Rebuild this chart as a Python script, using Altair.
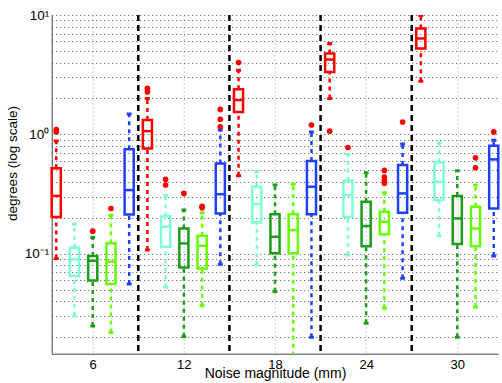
import altair as alt
import pandas as pd

# Noise magnitudes (mm) and the five methods compared at each one
groups = [6, 12, 18, 24, 30]
methods = ["M1", "M2", "M3", "M4", "M5"]
colors = ["#ff0000", "#7fffd4", "#1c9c1c", "#66ff00", "#2040ff"]
offsets = [-2.4, -1.2, 0.0, 1.2, 2.4]

# Box statistics, one row per method, one column per noise magnitude (degrees)
whisker_low = [
    [0.0917, 0.1076, 0.45, 2.0, 2.79],
    [0.0302, 0.0525, 0.0806, 0.0977, 0.1417],
    [0.0249, 0.0202, 0.0482, 0.0262, 0.020],
    [0.022, 0.0368, 0.012, 0.035, 0.036],
    [0.0559, 0.0817, 0.020, 0.0624, 0.096],
]
quartile1 = [
    [0.204, 0.764, 1.545, 3.34, 5.24],
    [0.0652, 0.1146, 0.1835, 0.204, 0.282],
    [0.060, 0.077, 0.101, 0.116, 0.121],
    [0.0559, 0.0756, 0.101, 0.146, 0.116],
    [0.214, 0.218, 0.215, 0.221, 0.240],
]
medians = [
    [0.306, 1.066, 1.94, 4.24, 6.36],
    [0.090, 0.169, 0.261, 0.31, 0.401],
    [0.0875, 0.1224, 0.139, 0.171, 0.198],
    [0.086, 0.117, 0.158, 0.186, 0.163],
    [0.342, 0.316, 0.365, 0.321, 0.618],
]
quartile3 = [
    [0.52, 1.32, 2.39, 4.76, 7.71],
    [0.1125, 0.207, 0.365, 0.409, 0.583],
    [0.096, 0.163, 0.215, 0.273, 0.305],
    [0.1225, 0.142, 0.215, 0.225, 0.248],
    [0.753, 0.572, 0.598, 0.554, 0.803],
]
whisker_high = [
    [0.88, 2.0, 3.45, 5.77, 9.9],
    [0.177, 0.31, 0.486, 0.68, 0.85],
    [0.137, 0.233, 0.377, 0.477, 0.496],
    [0.211, 0.221, 0.382, 0.325, 0.377],
    [1.48, 1.09, 1.05, 0.83, 0.896],
]

# Outliers: (method index, noise magnitude, value)
outlier_method = [0, 0, 0, 0, 0, 0, 1, 1, 1, 2, 2, 3, 3, 3, 3, 3, 3, 3, 3, 3, 4, 4, 4, 4, 4, 4]
outlier_group = [6, 6, 12, 12, 18, 24, 12, 12, 24, 6, 12, 6, 12, 12, 24, 24, 24, 24, 30, 30, 12, 12, 12, 18, 24, 30]
outlier_value = [1.1, 1.05, 2.43, 2.27, 4.0, 1.066, 0.42, 0.377, 0.778, 0.155, 0.321, 0.240, 0.25, 0.243,
                 0.50, 0.44, 0.41, 0.39, 0.637, 0.526, 1.62, 1.34, 1.16, 1.20, 1.27, 1.05]

separators = [9, 15, 21, 27]
x_ticks = [6, 12, 18, 24, 30]
decades = [0.01, 0.1, 1.0]

half_box = 0.3
half_cap = 0.16

boxes, whiskers, caps = [], [], []
for m, name in enumerate(methods):
    for g, grp in enumerate(groups):
        pos = grp + offsets[m]
        boxes.append(dict(method=name, pos=pos, left=pos - half_box, right=pos + half_box,
                          q1=quartile1[m][g], med=medians[m][g], q3=quartile3[m][g]))
        whiskers.append(dict(method=name, pos=pos, lo=whisker_low[m][g], hi=quartile1[m][g]))
        whiskers.append(dict(method=name, pos=pos, lo=quartile3[m][g], hi=whisker_high[m][g]))
        for v in (whisker_low[m][g], whisker_high[m][g]):
            caps.append(dict(method=name, left=pos - half_cap, right=pos + half_cap, v=v))

box_df = pd.DataFrame(boxes)
whisker_df = pd.DataFrame(whiskers)
cap_df = pd.DataFrame(caps)
out_df = pd.DataFrame(dict(
    pos=[g + offsets[m] for m, g in zip(outlier_method, outlier_group)],
    v=outlier_value,
))
sep_df = pd.DataFrame(dict(x=separators))

grid_values = [round(k * d, 4) for d in decades for k in range(1, 10) if k * d >= 0.0146] + [10.0]

xscale = alt.Scale(domain=[3.3, 32.7], nice=False, zero=False)
yscale = alt.Scale(type="log", domain=[0.0146, 10], nice=False)
cscale = alt.Scale(domain=methods, range=colors)

font = "Liberation Sans"
xaxis = alt.Axis(values=x_ticks, title="Noise magnitude (mm)", grid=True, gridDash=[1, 3],
                 gridColor="#9a9a9a", ticks=False, labelPadding=5, labelFontSize=13,
                 titleFontSize=14, titleFontWeight="normal", titlePadding=-5,
                 domainColor="#444444", labelColor="black", titleColor="black",
                 labelFont=font, titleFont=font)
yaxis = alt.Axis(values=grid_values, title="degrees (log scale)", grid=True, gridDash=[1, 3],
                 gridColor="#555555", ticks=False, labelPadding=3, labelFontSize=13.5,
                 labelExpr="datum.value == 10 ? '10¹' : datum.value == 1 ? '10⁰' : datum.value == 0.1 ? '10⁻¹' : ''",
                 titleFontSize=13.5, titleFontWeight="normal", titleX=-39, titleY=148,
                 titleAngle=270, titleBaseline="middle", titleAlign="center",
                 domainColor="#444444", labelColor="black", titleColor="black",
                 labelFont=font, titleFont=font)

X = lambda f: alt.X(f, type="quantitative", scale=xscale, axis=xaxis)
Y = lambda f: alt.Y(f, type="quantitative", scale=yscale, axis=yaxis)
C = alt.Color("method:N", scale=cscale, legend=None)

sep_layer = alt.Chart(sep_df).mark_rule(color="black", strokeWidth=2.5, strokeDash=[6, 4]).encode(
    x=X("x"), y=alt.value(0), y2=alt.value(338.7)
)

whisker_layer = alt.Chart(whisker_df).mark_rule(strokeWidth=2.5, strokeDash=[4, 4], clip=True).encode(
    x=X("pos"), y=Y("lo"), y2="hi", color=C
)

cap_layer = alt.Chart(cap_df).mark_rule(strokeWidth=3, clip=True).encode(
    x=X("left"), x2="right", y=Y("v"), color=C
)

box_layer = alt.Chart(box_df).mark_rect(filled=False, strokeWidth=2.5).encode(
    x=X("left"), x2="right", y=Y("q1"), y2="q3", color=C
)

median_layer = alt.Chart(box_df).mark_rule(strokeWidth=2.5).encode(
    x=X("left"), x2="right", y=Y("med"), color=C
)

outlier_layer = alt.Chart(out_df).mark_circle(size=32, color="#ff0000", opacity=1).encode(
    x=X("pos"), y=Y("v")
)

chart = alt.layer(
    sep_layer, whisker_layer, cap_layer, box_layer, median_layer, outlier_layer
).properties(
    width=446.6, height=338.7,
    autosize=alt.AutoSizeParams(type="none"),
    padding={"left": 51.7, "top": 15, "right": 3.7, "bottom": 29.3},
    background="white",
).configure_view(stroke=None)

chart.save("out.html", embed_options={"renderer": "svg", "actions": False})
